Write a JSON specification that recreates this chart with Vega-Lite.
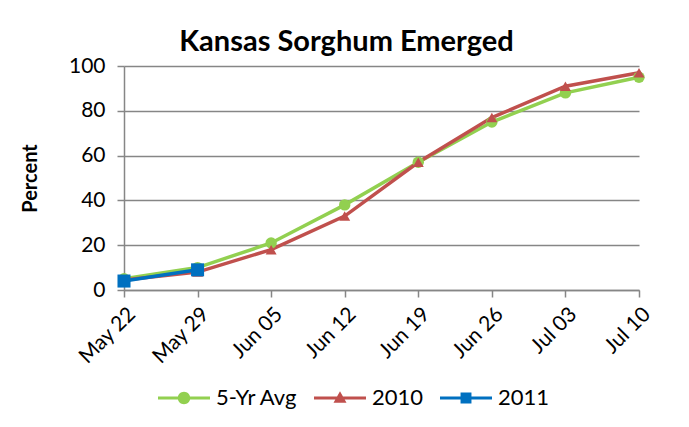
{
  "$schema": "https://vega.github.io/schema/vega-lite/v6.json",
  "autosize": "none",
  "width": 515,
  "height": 224,
  "padding": {"left": 124, "top": 66, "right": 50, "bottom": 137},
  "background": "white",
  "title": {"text": "Kansas Sorghum Emerged", "fontSize": 29, "font": "Lato", "fontWeight": "bold", "color": "black", "anchor": "middle", "dx": -35, "offset": -2},
  "config": {
    "font": "Lato",
    "view": {"stroke": null},
    "axis": {"labelColor": "black", "titleColor": "black", "gridColor": "#868686", "gridWidth": 1.5, "domainColor": "#868686", "domainWidth": 1.5, "tickColor": "#868686", "tickWidth": 1.5, "tickSize": 7}
  },
  "data": {"values": [
    {"date": "May 22", "series": "5-Yr Avg", "value": 5},
    {"date": "May 29", "series": "5-Yr Avg", "value": 10},
    {"date": "Jun 05", "series": "5-Yr Avg", "value": 21},
    {"date": "Jun 12", "series": "5-Yr Avg", "value": 38},
    {"date": "Jun 19", "series": "5-Yr Avg", "value": 57},
    {"date": "Jun 26", "series": "5-Yr Avg", "value": 75},
    {"date": "Jul 03", "series": "5-Yr Avg", "value": 88},
    {"date": "Jul 10", "series": "5-Yr Avg", "value": 95},
    {"date": "May 22", "series": "2010", "value": 4.5},
    {"date": "May 29", "series": "2010", "value": 8},
    {"date": "Jun 05", "series": "2010", "value": 18},
    {"date": "Jun 12", "series": "2010", "value": 33},
    {"date": "Jun 19", "series": "2010", "value": 57},
    {"date": "Jun 26", "series": "2010", "value": 77},
    {"date": "Jul 03", "series": "2010", "value": 91},
    {"date": "Jul 10", "series": "2010", "value": 97},
    {"date": "May 22", "series": "2011", "value": 4},
    {"date": "May 29", "series": "2011", "value": 9}
  ]},
  "encoding": {
    "x": {"field": "date", "type": "ordinal", "sort": null,
      "scale": {"type": "point", "padding": 0},
      "axis": {"title": null, "labelAngle": -45, "labelFontSize": 21, "grid": false, "labelPadding": 6, "domain": true}},
    "y": {"field": "value", "type": "quantitative",
      "scale": {"domain": [0, 100], "nice": false},
      "axis": {"title": "Percent", "titleFontSize": 20, "titleFontWeight": "bold", "titlePadding": 28, "values": [0, 20, 40, 60, 80, 100], "labelFontSize": 21, "labelPadding": 12}},
    "color": {"field": "series", "type": "nominal",
      "scale": {"domain": ["5-Yr Avg", "2010", "2011"], "range": ["#92D050", "#C0504D", "#0070C0"]},
      "legend": {"title": null, "orient": "none", "direction": "horizontal", "legendX": 34, "legendY": 306,
        "labelFontSize": 22, "symbolSize": 2704, "columnPadding": 16, "labelOffset": 6, "symbolStrokeWidth": 0,
        "encode": {"symbols": {"update": {
          "shape": {"signal": "datum.value == '5-Yr Avg' ? 'M-1,-0.06H1V0.06H-1Z M0.24,0 A0.24,0.24 0 1,1 -0.24,0 A0.24,0.24 0 1,1 0.24,0 Z' : datum.value == '2010' ? 'M-1,-0.06H1V0.06H-1Z M0,-0.26 L0.25,0.18 L-0.25,0.18 Z' : 'M-1,-0.06H1V0.06H-1Z M-0.21,-0.21H0.21V0.21H-0.21Z'"},
          "fill": {"signal": "scale('color', datum.value)"},
          "strokeWidth": {"value": 0}
        }}}}
    }
  },
  "layer": [
    {"mark": {"type": "line", "strokeWidth": 3.5}},
    {"transform": [{"filter": "datum.series == '5-Yr Avg'"}],
     "mark": {"type": "point", "filled": true, "opacity": 1, "shape": "circle", "size": 130}},
    {"transform": [{"filter": "datum.series == '2010'"}],
     "mark": {"type": "point", "filled": true, "opacity": 1, "shape": "triangle-up", "size": 120}},
    {"transform": [{"filter": "datum.series == '2011'"}],
     "mark": {"type": "point", "filled": true, "opacity": 1, "shape": "square", "size": 170}}
  ]
}
